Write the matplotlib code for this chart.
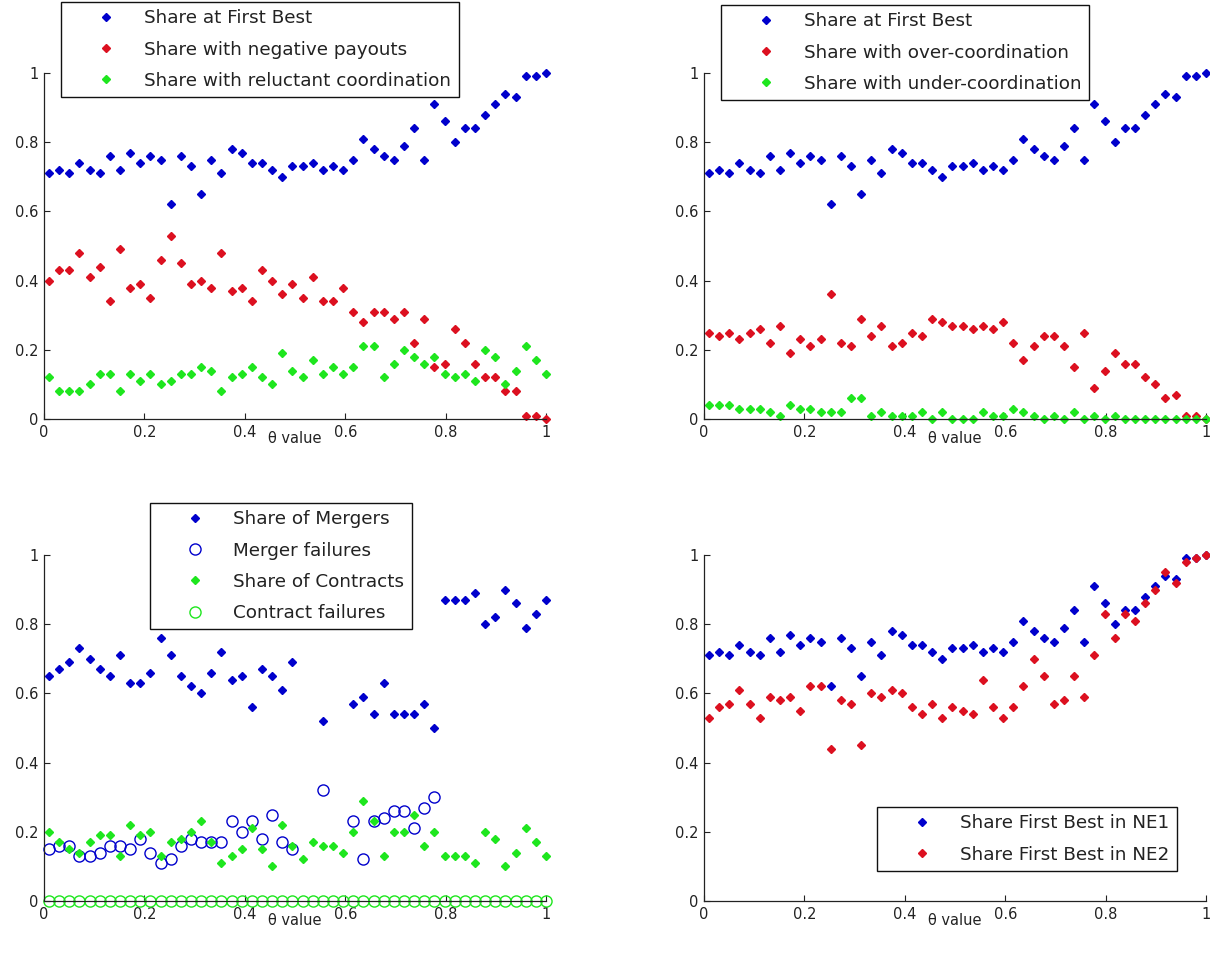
import numpy as np
import matplotlib
matplotlib.use("Agg")
import matplotlib.pyplot as plt

# θ grid (50 simulation points)
theta = np.linspace(0.01, 1.0, 50)

first_best = [0.71, 0.72, 0.71, 0.74, 0.72, 0.71, 0.76, 0.72, 0.77, 0.74,
              0.76, 0.75, 0.62, 0.76, 0.73, 0.65, 0.75, 0.71, 0.78, 0.77,
              0.74, 0.74, 0.72, 0.70, 0.73, 0.73, 0.74, 0.72, 0.73, 0.72,
              0.75, 0.81, 0.78, 0.76, 0.75, 0.79, 0.84, 0.75, 0.91, 0.86,
              0.80, 0.84, 0.84, 0.88, 0.91, 0.94, 0.93, 0.99, 0.99, 1.00]
neg_payouts = [0.40, 0.43, 0.43, 0.48, 0.41, 0.44, 0.34, 0.49, 0.38, 0.39,
               0.35, 0.46, 0.53, 0.45, 0.39, 0.40, 0.38, 0.48, 0.37, 0.38,
               0.34, 0.43, 0.40, 0.36, 0.39, 0.35, 0.41, 0.34, 0.34, 0.38,
               0.31, 0.28, 0.31, 0.31, 0.29, 0.31, 0.22, 0.29, 0.15, 0.16,
               0.26, 0.22, 0.16, 0.12, 0.12, 0.08, 0.08, 0.01, 0.01, 0.00]
reluctant = [0.12, 0.08, 0.08, 0.08, 0.10, 0.13, 0.13, 0.08, 0.13, 0.11,
             0.13, 0.10, 0.11, 0.13, 0.13, 0.15, 0.14, 0.08, 0.12, 0.13,
             0.15, 0.12, 0.10, 0.19, 0.14, 0.12, 0.17, 0.13, 0.15, 0.13,
             0.15, 0.21, 0.21, 0.12, 0.16, 0.20, 0.18, 0.16, 0.18, 0.13,
             0.12, 0.13, 0.11, 0.20, 0.18, 0.10, 0.14, 0.21, 0.17, 0.13]
over_coord = [0.25, 0.24, 0.25, 0.23, 0.25, 0.26, 0.22, 0.27, 0.19, 0.23,
              0.21, 0.23, 0.36, 0.22, 0.21, 0.29, 0.24, 0.27, 0.21, 0.22,
              0.25, 0.24, 0.29, 0.28, 0.27, 0.27, 0.26, 0.27, 0.26, 0.28,
              0.22, 0.17, 0.21, 0.24, 0.24, 0.21, 0.15, 0.25, 0.09, 0.14,
              0.19, 0.16, 0.16, 0.12, 0.10, 0.06, 0.07, 0.01, 0.01, 0.00]
under_coord = [0.04, 0.04, 0.04, 0.03, 0.03, 0.03, 0.02, 0.01, 0.04, 0.03,
               0.03, 0.02, 0.02, 0.02, 0.06, 0.06, 0.01, 0.02, 0.01, 0.01,
               0.01, 0.02, 0.00, 0.02, 0.00, 0.00, 0.00, 0.02, 0.01, 0.01,
               0.03, 0.02, 0.01, 0.00, 0.01, 0.00, 0.02, 0.00, 0.01, 0.00,
               0.01, 0.00, 0.00, 0.00, 0.00, 0.00, 0.00, 0.00, 0.00, 0.00]
nan = np.nan
mergers = [0.65, 0.67, 0.69, 0.73, 0.70, 0.67, 0.65, 0.71, 0.63, 0.63,
           0.66, 0.76, 0.71, 0.65, 0.62, 0.60, 0.66, 0.72, 0.64, 0.65,
           0.56, 0.67, 0.65, 0.61, 0.69, nan, nan, 0.52, nan, nan,
           0.57, 0.59, 0.54, 0.63, 0.54, 0.54, 0.54, 0.57, 0.50, 0.87,
           0.87, 0.87, 0.89, 0.80, 0.82, 0.90, 0.86, 0.79, 0.83, 0.87]
merger_fail = [0.15, 0.16, 0.16, 0.13, 0.13, 0.14, 0.16, 0.16, 0.15, 0.18,
               0.14, 0.11, 0.12, 0.16, 0.18, 0.17, 0.17, 0.17, 0.23, 0.20,
               0.23, 0.18, 0.25, 0.17, 0.15, nan, nan, 0.32, nan, nan,
               0.23, 0.12, 0.23, 0.24, 0.26, 0.26, 0.21, 0.27, 0.30, nan,
               nan, nan, nan, nan, nan, nan, nan, nan, nan, nan]
contracts = [0.20, 0.17, 0.15, 0.14, 0.17, 0.19, 0.19, 0.13, 0.22, 0.19,
             0.20, 0.13, 0.17, 0.18, 0.20, 0.23, 0.17, 0.11, 0.13, 0.15,
             0.21, 0.15, 0.10, 0.22, 0.16, 0.12, 0.17, 0.16, 0.16, 0.14,
             0.20, 0.29, 0.23, 0.13, 0.20, 0.20, 0.25, 0.16, 0.20, 0.13,
             0.13, 0.13, 0.11, 0.20, 0.18, 0.10, 0.14, 0.21, 0.17, 0.13]
contract_fail = [0.0, 0.0, 0.0, 0.0, 0.0, 0.0, 0.0, 0.0, 0.0, 0.0,
                 0.0, 0.0, 0.0, 0.0, 0.0, 0.0, 0.0, 0.0, 0.0, 0.0,
                 0.0, 0.0, 0.0, 0.0, 0.0, 0.0, 0.0, 0.0, 0.0, 0.0,
                 0.0, 0.0, 0.0, 0.0, 0.0, 0.0, 0.0, 0.0, 0.0, 0.0,
                 0.0, 0.0, 0.0, 0.0, 0.0, 0.0, 0.0, 0.0, 0.0, 0.0]
ne2 = [0.53, 0.56, 0.57, 0.61, 0.57, 0.53, 0.59, 0.58, 0.59, 0.55,
       0.62, 0.62, 0.44, 0.58, 0.57, 0.45, 0.60, 0.59, 0.61, 0.60,
       0.56, 0.54, 0.57, 0.53, 0.56, 0.55, 0.54, 0.64, 0.56, 0.53,
       0.56, 0.62, 0.70, 0.65, 0.57, 0.58, 0.65, 0.59, 0.71, 0.83,
       0.76, 0.83, 0.81, 0.86, 0.90, 0.95, 0.92, 0.98, 0.99, 1.00]

ticks = [0, 0.2, 0.4, 0.6, 0.8, 1]
tick_labels = ["0", "0.2", "0.4", "0.6", "0.8", "1"]

BLUE = "#0000cc"
RED = "#dc1020"
GREEN = "#1ee61e"
W, H = 1210, 961


def _axes(fig, x0, y_top, x1, y_bot):
    """Add axes from pixel box (top-left origin)."""
    ax = fig.add_axes([x0 / W, 1 - y_bot / H, (x1 - x0) / W, (y_bot - y_top) / H])
    ax.set_xlim(0, 1)
    ax.set_ylim(0, 1)
    ax.set_xticks(ticks)
    ax.set_xticklabels(tick_labels)
    ax.set_yticks(ticks)
    ax.set_yticklabels(tick_labels)
    ax.tick_params(direction="in", length=4, width=0.8, labelsize=10.5,
                   colors="#222222", pad=4)
    for s in ("top", "right"):
        ax.spines[s].set_visible(False)
    for s in ("left", "bottom"):
        ax.spines[s].set_linewidth(0.9)
        ax.spines[s].set_color("#222222")
    ax.set_xlabel("θ value", fontsize=10.5, color="#222222", labelpad=-6)
    return ax


def _dots(ax, y, color, label):
    ax.plot(theta, y, "D", ms=3.7, color=color, mec=color, label=label, clip_on=False)


def _rings(ax, y, color, label):
    ax.plot(theta, y, "o", ms=8, mfc="none", mec=color, mew=1.0,
            label=label, clip_on=False)


def _legend(ax, x, y):
    leg = ax.legend(loc="upper left", bbox_to_anchor=(x / W, 1 - y / H),
                    bbox_transform=ax.figure.transFigure, fontsize=13.2,
                    frameon=True, fancybox=False, framealpha=1,
                    edgecolor="#111111", borderaxespad=0, borderpad=0.4,
                    handlelength=4.1, handletextpad=0.05, labelspacing=0.72,
                    numpoints=1)
    leg.get_frame().set_linewidth(1.0)
    for t in leg.get_texts():
        t.set_color("#222222")
    return leg


fig = plt.figure(figsize=(W / 100, H / 100), dpi=100, facecolor="white")

# top-left
ax1 = _axes(fig, 44, 73, 546, 419)
_dots(ax1, first_best, BLUE, "Share at First Best")
_dots(ax1, neg_payouts, RED, "Share with negative payouts")
_dots(ax1, reluctant, GREEN, "Share with reluctant coordination")
_legend(ax1, 61, 2)

# top-right
ax2 = _axes(fig, 704, 73, 1206, 419)
_dots(ax2, first_best, BLUE, "Share at First Best")
_dots(ax2, over_coord, RED, "Share with over-coordination")
_dots(ax2, under_coord, GREEN, "Share with under-coordination")
_legend(ax2, 721, 5)

# bottom-left
ax3 = _axes(fig, 44, 555, 546, 901)
_dots(ax3, mergers, BLUE, "Share of Mergers")
_rings(ax3, merger_fail, BLUE, "Merger failures")
_dots(ax3, contracts, GREEN, "Share of Contracts")
_rings(ax3, contract_fail, GREEN, "Contract failures")
_legend(ax3, 150, 503)

# bottom-right
ax4 = _axes(fig, 704, 555, 1206, 901)
_dots(ax4, first_best, BLUE, "Share First Best in NE1")
_dots(ax4, ne2, RED, "Share First Best in NE2")
_legend(ax4, 877, 807)

fig.savefig("out.png", dpi=100, facecolor="white")
